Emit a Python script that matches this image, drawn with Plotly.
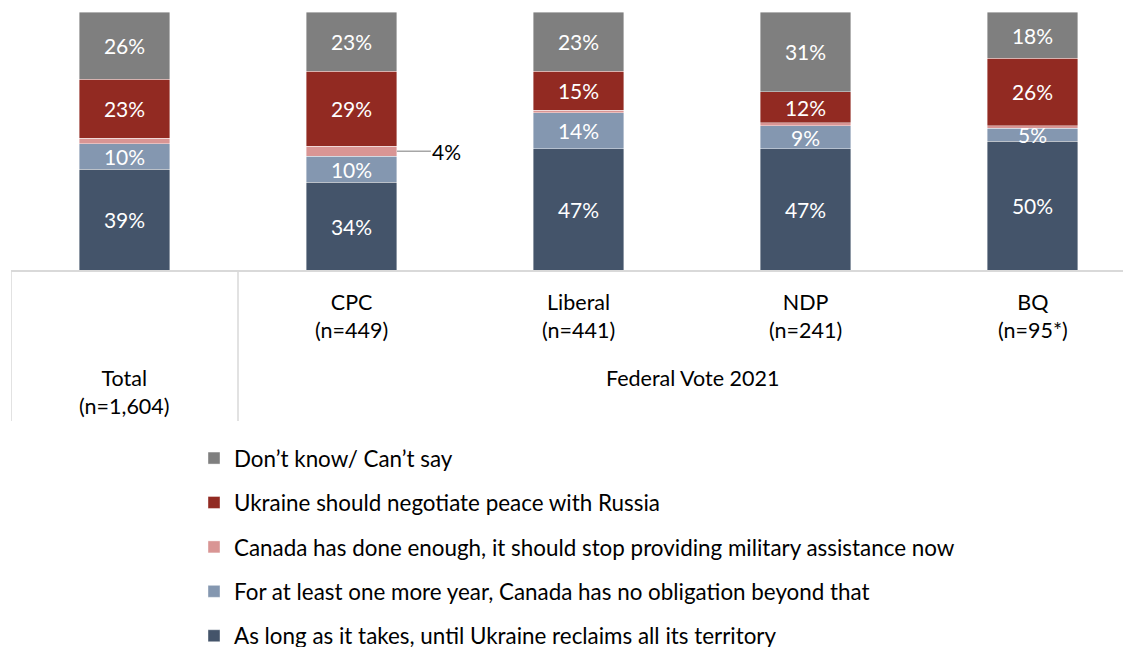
import plotly.graph_objects as go

# ---- data ----
categories = ["Total", "CPC", "Liberal", "NDP", "BQ"]
cat_labels = ["Total<br>(n=1,604)", "CPC<br>(n=449)", "Liberal<br>(n=441)", "NDP<br>(n=241)", "BQ<br>(n=95*)"]
group_label = "Federal Vote 2021"

series_names = [
    "As long as it takes, until Ukraine reclaims all its territory",
    "For at least one more year, Canada has no obligation beyond that",
    "Canada has done enough, it should stop providing military assistance now",
    "Ukraine should negotiate peace with Russia",
    "Don\u2019t know/ Can\u2019t say",
]
as_long_as = [39, 34, 47, 47, 50]
one_more_year = [10, 10, 14, 9, 5]
done_enough = [2, 4, 1, 1, 1]
negotiate = [23, 29, 15, 12, 26]
dont_know = [26, 23, 23, 31, 18]

series_values = [as_long_as, one_more_year, done_enough, negotiate, dont_know]
colors = ["#44546A", "#8497B0", "#D99594", "#922A22", "#7F7F7F"]
show_text = [True, True, False, True, True]
legend_ranks = [5, 4, 3, 2, 1]

FONT = "Lato, Carlito, Calibri, sans-serif"
BAR_WIDTH = 0.4

fig = go.Figure()
for name, vals, col, st, rk in zip(series_names, series_values, colors, show_text, legend_ranks):
    fig.add_trace(go.Bar(
        x=categories,
        y=vals,
        name=name,
        legendgroup=name,
        legendrank=rk,
        marker=dict(color=col, line=dict(color="rgba(255,255,255,0.5)", width=0.8)),
        width=BAR_WIDTH,
        text=[f"{v}%" for v in vals] if st else None,
        textposition="inside" if st else "none",
        insidetextanchor="middle",
        textangle=0,
        textfont=dict(family=FONT, size=21, color="white"),
        hoverinfo="name+y",
    ))

# page offset (browser default body margin)
OFF = 8
PLOT_TOP, PLOT_BOTTOM = 12, 270  # page pixels
PLOT_H = float(PLOT_BOTTOM - PLOT_TOP)

def py_to_paper(py):
    return (PLOT_BOTTOM - py) / PLOT_H

annotations = []
for i, lab in enumerate(cat_labels):
    yp = py_to_paper(391.5) if i == 0 else py_to_paper(315.5)
    annotations.append(dict(
        x=categories[i], y=yp, xref="x", yref="paper", text=lab, showarrow=False,
        font=dict(family=FONT, size=21.5, color="#000000"), align="center",
        xanchor="center", yanchor="middle",
    ))
annotations.append(dict(
    x=2.5, y=py_to_paper(378), xref="x", yref="paper", text=group_label, showarrow=False,
    font=dict(family=FONT, size=21.5, color="#000000"), xanchor="center", yanchor="middle",
))

# callout for CPC small segment
cpc_i = categories.index("CPC")
cpc_mid = as_long_as[cpc_i] + one_more_year[cpc_i] + done_enough[cpc_i] / 2
annotations.append(dict(
    x=cpc_i + BAR_WIDTH / 2, y=cpc_mid, xref="x", yref="y",
    text=f"{done_enough[cpc_i]}%", showarrow=True, arrowhead=0, arrowwidth=1.5,
    arrowcolor="#A6A6A6", ax=50, ay=0, standoff=0, startstandoff=0,
    font=dict(family=FONT, size=21, color="#000000"), xanchor="center",
))

shapes = []
for xb in [-0.5, 0.5]:
    shapes.append(dict(
        type="line", xref="x", yref="paper", x0=xb, x1=xb, y0=0, y1=py_to_paper(421),
        line=dict(color="#D9D9D9", width=1.5),
    ))

W, H = 1131 - OFF, 700
fig.update_layout(
    width=W, height=H,
    margin=dict(l=11 - OFF, r=0, t=PLOT_TOP - OFF, b=H - (PLOT_BOTTOM - OFF), pad=0),
    paper_bgcolor="white", plot_bgcolor="white",
    barmode="stack",
    showlegend=True,
    legend=dict(
        traceorder="grouped",
        x=(194 - 11) / 1120.0, xanchor="left",
        y=py_to_paper(437), yanchor="top",
        tracegroupgap=12.3,
        itemwidth=30,
        font=dict(family=FONT, size=22.4, color="#000000"),
        bgcolor="rgba(0,0,0,0)",
        itemclick=False,
    ),
    xaxis=dict(
        type="category",
        range=[-0.5, -0.5 + 1120 / 227.0],
        showticklabels=False, showgrid=False, zeroline=False, ticks="",
        showline=True, linecolor="#D9D9D9", linewidth=1.5,
        fixedrange=True,
    ),
    yaxis=dict(
        range=[0, 100], visible=False, showgrid=False, zeroline=False, fixedrange=True,
    ),
    annotations=annotations,
    shapes=shapes,
    uniformtext=dict(minsize=21, mode="show"),
    font=dict(family=FONT),
)

fig.write_html("out.html")
